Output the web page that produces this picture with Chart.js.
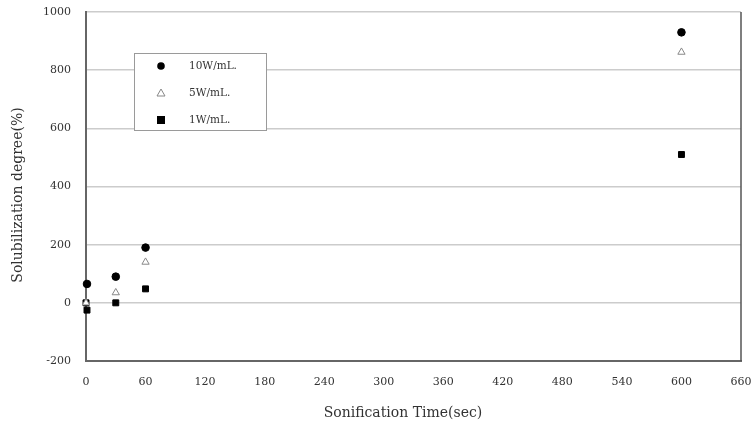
<!DOCTYPE html>
<html><head><meta charset="utf-8">
<script src="https://cdn.jsdelivr.net/npm/chart.js@4"></script>
<style>html,body{margin:0;padding:0;background:#fff}#wrap{width:754px;height:427px}</style>
</head><body><div id="wrap"><canvas id="c" width="754" height="427"></canvas></div>
<script>
const seriesLabels = ["10W/mL.", "5W/mL.", "1W/mL."];
const times10 = [1, 30, 60, 600];
const values10 = [65, 90, 190, 930];
const times5 = [0, 30, 60, 600];
const values5 = [0, 35, 140, 862];
const times1 = [0, 1, 30, 60, 600];
const values1 = [0, -25, 0, 48, 510];
const xTitle = "Sonification Time(sec)";
const yTitle = "Solubilization degree(%)";

const toPts = (xs, ys) => xs.map((x, i) => ({x: x, y: ys[i]}));
const FONT = "'DejaVu Serif', 'Liberation Serif', serif";

const legendPlugin = {
  id: 'boxLegend',
  afterDraw(chart) {
    const ctx = chart.ctx;
    const x0 = 134, y0 = 53, w = 132, h = 77;
    ctx.save();
    ctx.fillStyle = '#fff';
    ctx.fillRect(x0, y0, w, h);
    ctx.strokeStyle = '#9a9a9a';
    ctx.lineWidth = 1;
    ctx.strokeRect(x0 + 0.5, y0 + 0.5, w, h);
    ctx.font = "10.5px " + FONT;
    ctx.textBaseline = 'middle';
    const rows = [66, 93, 120];
    chart.data.datasets.forEach((ds, i) => {
      const cy = rows[i], cx = 161;
      ctx.lineWidth = 1;
      if (ds.pointStyle === 'circle') {
        ctx.fillStyle = '#000';
        ctx.beginPath(); ctx.arc(cx, cy, 3.8, 0, Math.PI * 2); ctx.fill();
      } else if (ds.pointStyle === 'triangle') {
        ctx.strokeStyle = '#888';
        ctx.beginPath(); ctx.moveTo(cx, cy - 4); ctx.lineTo(cx + 4, cy + 3); ctx.lineTo(cx - 4, cy + 3); ctx.closePath(); ctx.stroke();
      } else {
        ctx.fillStyle = '#000';
        ctx.fillRect(cx - 4, cy - 4, 8, 8);
      }
      ctx.fillStyle = '#333';
      ctx.fillText(ds.label, 189, cy);
    });
    const a = chart.chartArea;
    ctx.strokeStyle = '#555';
    ctx.lineWidth = 1.5;
    ctx.beginPath(); ctx.moveTo(a.right, a.top); ctx.lineTo(a.right, a.bottom); ctx.stroke();
    // axis titles
    ctx.fillStyle = '#333';
    ctx.font = "14px " + FONT;
    ctx.textAlign = 'center';
    ctx.textBaseline = 'middle';
    ctx.fillText(xTitle, 403, 413);
    ctx.translate(18, 195);
    ctx.rotate(-Math.PI / 2);
    ctx.fillText(yTitle, 0, 0);
    ctx.restore();
  }
};

new Chart(document.getElementById('c'), {
  type: 'scatter',
  data: {
    datasets: [
      {label: seriesLabels[0], data: toPts(times10, values10), pointStyle: 'circle', pointRadius: 3.8, backgroundColor: '#000', borderColor: '#000', borderWidth: 1},
      {label: seriesLabels[1], data: toPts(times5, values5), pointStyle: 'triangle', pointRadius: 4.2, backgroundColor: '#fff', borderColor: '#888', borderWidth: 1},
      {label: seriesLabels[2], data: toPts(times1, values1), pointStyle: 'rect', pointRadius: 4.2, backgroundColor: '#000', borderColor: '#000', borderWidth: 1}
    ]
  },
  options: {
    responsive: false,
    animation: false,
    clip: false,
    layout: {padding: {left: 0, right: 13, top: 12, bottom: 0}},
    plugins: {legend: {display: false}, tooltip: {enabled: false}},
    scales: {
      x: {
        type: 'linear', min: 0, max: 660,
        ticks: {stepSize: 60, font: {family: FONT, size: 11}, color: '#333', padding: 15, callback: v => String(v)},
        grid: {display: false, drawTicks: false},
        border: {display: true, color: '#666', width: 2},
        afterFit(s) { s.height = 66; s.paddingLeft = 0; s.paddingRight = 0; }
      },
      y: {
        type: 'linear', min: -200, max: 1000,
        ticks: {stepSize: 200, font: {family: FONT, size: 11}, color: '#333', padding: 15, callback: v => String(v)},
        grid: {color: (c) => c.tick.value === -200 ? 'rgba(0,0,0,0)' : '#cccccc', lineWidth: 1.5, drawTicks: false},
        border: {display: true, color: '#666', width: 2},
        afterFit(s) { s.width = 86; s.paddingTop = 0; s.paddingBottom = 0; }
      }
    }
  },
  plugins: [legendPlugin]
});
</script></body></html>
